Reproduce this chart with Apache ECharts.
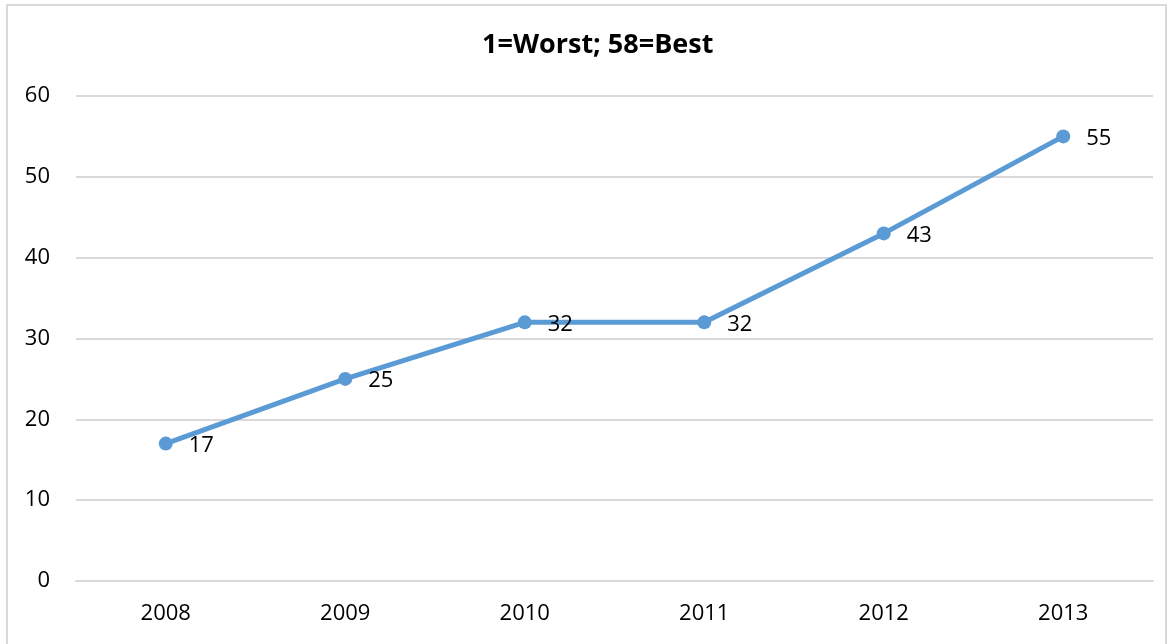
<!DOCTYPE html>
<html>
<head>
<meta charset="utf-8">
<script src="https://cdn.jsdelivr.net/npm/echarts@6/dist/echarts.min.js"></script>
<style>
  html, body { margin: 0; padding: 0; background: #fff; }
  #frame { position: absolute; left: 6px; top: 4px; width: 1161px; height: 660px; border: 2px solid #d9d9d9; box-sizing: border-box; }
  #chart { position: absolute; left: 0; top: 0; width: 1173px; height: 644px; }
</style>
</head>
<body>
<div id="frame"></div>
<div id="chart"></div>
<script>
// ==================== RANK LINE CHART ====================
const years = ['2008', '2009', '2010', '2011', '2012', '2013'];
const ranks = [17, 25, 32, 32, 43, 55];
const yTicks = { min: 0, max: 60, interval: 10 };

const chart = echarts.init(document.getElementById('chart'));
const textC = '#000', gridC = '#d9d9d9', lineC = '#5b9bd5';
const font = '"Open Sans", "Noto Sans", sans-serif';

chart.setOption({
  backgroundColor: 'transparent',
  animation: false,
  title: {
    text: '1=Worst; 58=Best', left: 477, top: 27,
    textStyle: { fontFamily: font, fontSize: 27, fontWeight: 'bold', color: textC }
  },
  grid: { left: 76, right: 20, top: 96, bottom: 63 },
  xAxis: {
    type: 'category', data: years, boundaryGap: true,
    axisLine: { lineStyle: { color: gridC, width: 2 } }, axisTick: { show: false },
    axisLabel: { color: textC, fontSize: 22, fontFamily: font, margin: 22 }
  },
  yAxis: {
    type: 'value', min: yTicks.min, max: yTicks.max, interval: yTicks.interval,
    axisLine: { show: false }, axisTick: { show: false },
    axisLabel: { color: textC, fontSize: 22, fontFamily: font, margin: 26 },
    splitLine: { lineStyle: { color: gridC, width: 2 } }
  },
  series: [{
    type: 'line', data: ranks, symbol: 'circle', symbolSize: 14,
    lineStyle: { color: lineC, width: 5 }, itemStyle: { color: lineC },
    label: { show: true, position: 'right', distance: 16, offset: [0, 2], color: textC, fontSize: 22, fontFamily: font }
  }]
});
</script>
</body>
</html>
